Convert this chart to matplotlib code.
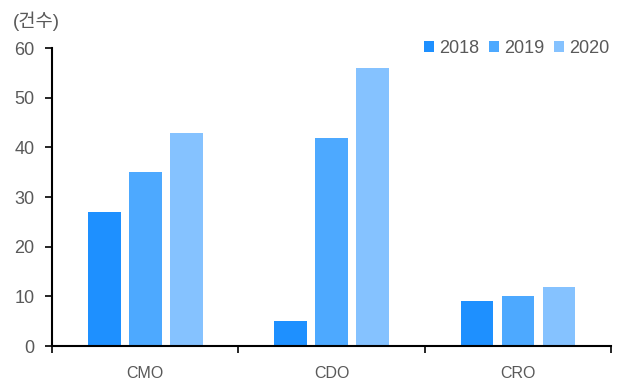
import numpy as np
import matplotlib
matplotlib.use('Agg')
import matplotlib.pyplot as plt

plt.rcParams['font.family'] = ['Liberation Sans', 'Noto Sans CJK KR', 'DejaVu Sans']

categories = ['CMO', 'CDO', 'CRO']
years = ['2018', '2019', '2020']
values_2018 = [27, 5, 9]
values_2019 = [35, 42, 10]
values_2020 = [43, 56, 12]
colors = ['#1E90FF', '#4DA9FF', '#85C2FF']
text_color = '#595959'

fig = plt.figure(figsize=(6.23, 3.85), dpi=100)
ax = fig.add_axes([0.0835, 0.101, 0.8975, 0.774])

x = np.arange(len(categories))
width = 0.175
step = 0.22
series = [values_2018, values_2019, values_2020]
for i, (vals, yr) in enumerate(zip(series, years)):
    ax.bar(x + (i - 1) * step, vals, width, color=colors[i], label=yr)

ax.set_xlim(-0.5, 2.5)
ax.set_ylim(0, 60)
ax.set_yticks(range(0, 61, 10))
ax.set_xticks(x)
ax.set_xticklabels(categories)
ax.set_xticks([-0.5, 0.5, 1.5, 2.5], minor=True)
ax.tick_params(axis='x', which='major', length=0, pad=14, labelsize=11.5, labelcolor=text_color)
ax.tick_params(axis='x', which='minor', length=5, width=1.2, direction='out')
ax.tick_params(axis='y', length=5, width=1.2, direction='out', labelsize=13, labelcolor=text_color, pad=7.5)

for s in ['top', 'right']:
    ax.spines[s].set_visible(False)
for s in ['left', 'bottom']:
    ax.spines[s].set_linewidth(1.5)
    ax.spines[s].set_color('black')

fig.text(0.02, 0.945, '(건수)', fontsize=13.5, color=text_color, va='center', ha='left')

leg = ax.legend(loc='upper right', bbox_to_anchor=(1.026, 1.083), ncol=3, frameon=False,
                fontsize=13, handlelength=0.55, handleheight=0.55, handletextpad=0.28,
                columnspacing=0.56, labelcolor=text_color)

fig.savefig('out.png', dpi=100)
